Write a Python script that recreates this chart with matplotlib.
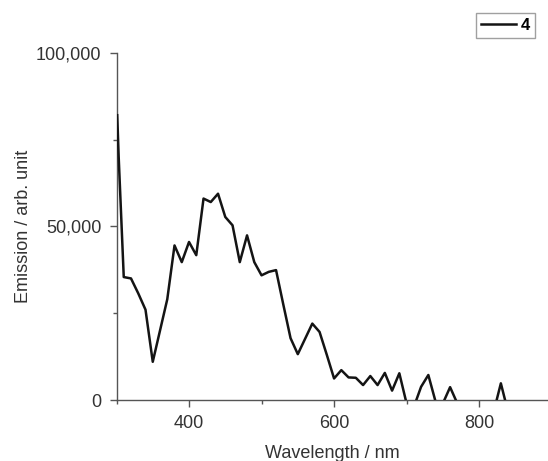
import numpy as np
import matplotlib
matplotlib.use("Agg")
import matplotlib.pyplot as plt
from matplotlib.ticker import FuncFormatter, MultipleLocator

plt.rcParams["font.family"] = ["Liberation Sans", "DejaVu Sans"]

# emission spectrum
wavelength = [301, 303, 310, 320, 330, 340, 350, 360, 370, 380,
              390, 400, 410, 420, 430, 440, 450, 460, 470, 480,
              490, 500, 510, 520, 530, 540, 550, 560, 570, 580,
              590, 600, 610, 620, 630, 640, 650, 660, 670, 680,
              690, 700, 710, 720, 730, 740, 750, 760, 770, 780,
              790, 800, 810, 820, 830, 840, 850, 860, 870, 880, 890]
emission = [82000, 70000, 35400, 35000, 30700, 26000, 11000, 20000, 29000, 44500,
            39700, 45500, 41700, 58000, 57000, 59400, 52700, 50300, 39700, 47400,
            39700, 35900, 36900, 37400, 27500, 17800, 13200, 17600, 22000, 19600,
            13000, 6200, 8600, 6500, 6400, 4300, 6900, 4300, 7800, 2700,
            7700, -1000, -2000, 3800, 7200, -500, -1000, 3700, -1000, -3000,
            -2500, -3500, -3000, -3500, 4800, -3500, -3000, -2500, -3000, -3500, -3000]

fig = plt.figure(figsize=(5.48, 4.61), dpi=100)
ax = fig.add_axes([116.5 / 548, 1 - 400 / 461, 1 - 116.5 / 548, (400 - 52.7) / 461])

ax.plot(wavelength, emission, color="#141414", lw=1.8, label="4", zorder=3)

ax.set_xlim(300, 895)
ax.set_ylim(0, 100000)
ax.xaxis.set_major_locator(MultipleLocator(200))
ax.xaxis.set_minor_locator(MultipleLocator(100))
ax.yaxis.set_major_locator(MultipleLocator(50000))
ax.yaxis.set_minor_locator(MultipleLocator(25000))
ax.yaxis.set_major_formatter(FuncFormatter(lambda v, p: f"{int(v):,}"))

for s in ["top", "right"]:
    ax.spines[s].set_visible(False)
for s in ["left", "bottom"]:
    ax.spines[s].set_color("#555555")
    ax.spines[s].set_linewidth(1.0)

ax.tick_params(which="major", direction="out", length=5, width=1, color="#555555",
               labelsize=13, labelcolor="#333333", pad=6)
ax.tick_params(which="minor", direction="out", length=3, width=1, color="#555555")

ax.set_xlabel("Wavelength / nm", fontsize=13, color="#333333", labelpad=9)
ax.set_ylabel("Emission / arb. unit", fontsize=13, color="#333333", labelpad=3)

leg = fig.legend(loc="upper right", bbox_to_anchor=(0.976, 0.972), frameon=True,
                 fancybox=False, edgecolor="#888888", handlelength=2.1,
                 handletextpad=0.3, borderpad=0.3, borderaxespad=0,
                 prop={"weight": "bold", "size": 12})
leg.get_frame().set_linewidth(1.0)

fig.savefig("out.png", dpi=100)
